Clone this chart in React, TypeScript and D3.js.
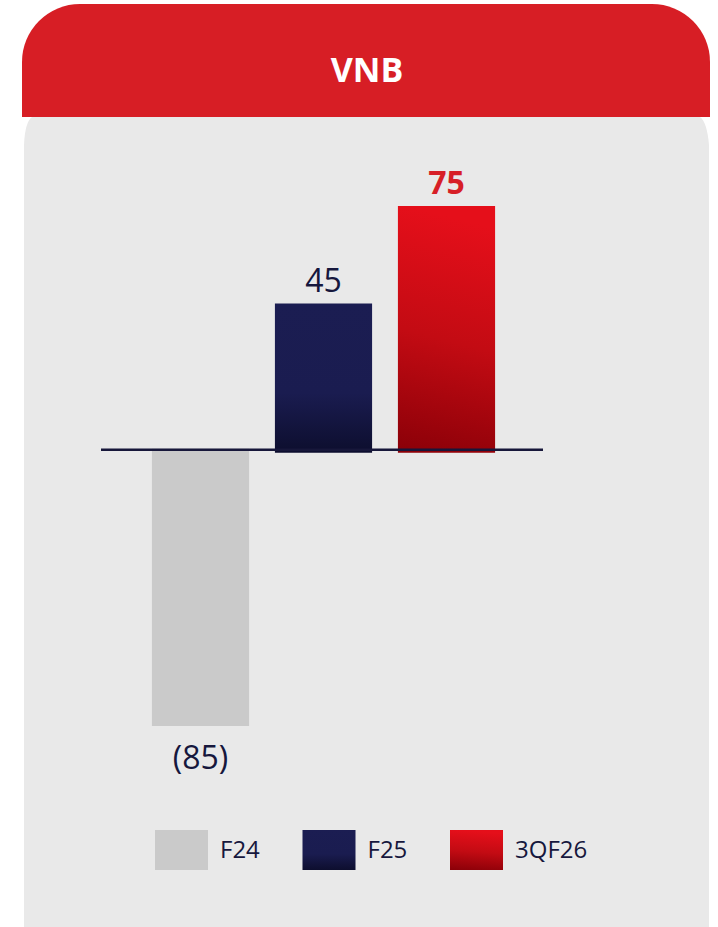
import React from "react";
import * as d3 from "d3";

const title = "VNB";
const categories = ["F24", "F25", "3QF26"];
const values = [-85, 45, 75];
const valueLabels = ["(85)", "45", "75"];
const legendLabels = ["F24", "F25", "3QF26"];

const W = 718;
const H = 927;
const FONT = "'Open Sans', 'Noto Sans', sans-serif";
const NAVY = "#16173d";

export default function App() {
  const x = d3
    .scaleBand<string>()
    .domain(categories)
    .range([139, 508])
    .paddingInner(0.21)
    .paddingOuter(0.105);
  const y = d3.scaleLinear().domain([-85, 75]).range([726, 206]);
  const y0 = y(0);

  const fills = ["#cacaca", "url(#gNavy)", "url(#gRed)"];
  const labelColors = [NAVY, NAVY, "#d71f27"];
  const labelWeights = [400, 400, 700];

  const legendX = d3.scalePoint<string>().domain(legendLabels).range([155, 450]);
  const headerPath = d3.path();
  const hx0 = 22, hx1 = 710, hy0 = 4, hy1 = 117, r = 58;
  headerPath.moveTo(hx0, hy1);
  headerPath.lineTo(hx0, hy0 + r);
  headerPath.arcTo(hx0, hy0, hx0 + r, hy0, r);
  headerPath.lineTo(hx1 - r, hy0);
  headerPath.arcTo(hx1, hy0, hx1, hy0 + r, r);
  headerPath.lineTo(hx1, hy1);
  headerPath.closePath();

  const panelPath = `M24,${H} L24,145 Q25,122 32,117 L700,117 Q707,122 709,145 L709,${H} Z`;

  return (
    <svg
      width={W}
      height={H}
      style={{ position: "absolute", left: 0, top: 0, background: "#ffffff" }}
    >
      <defs>
        <linearGradient id="gNavy" x1="0" y1="0" x2="0" y2="1">
          <stop offset="0" stopColor="#1b1d52" />
          <stop offset="0.6" stopColor="#1a1c50" />
          <stop offset="1" stopColor="#0d0e2e" />
        </linearGradient>
        <linearGradient id="gRed" x1="0.1" y1="0" x2="0" y2="1">
          <stop offset="0" stopColor="#e50f1a" />
          <stop offset="0.5" stopColor="#c30b13" />
          <stop offset="1" stopColor="#8a0008" />
        </linearGradient>
      </defs>
      <path d={panelPath} fill="#e9e9e9" />
      <path d={headerPath.toString()} fill="#d71e25" />
      <text
        x={367}
        y={82}
        textAnchor="middle"
        fontFamily={FONT}
        fontWeight={700}
        fontSize={34}
        fill="#ffffff"
      >
        {title}
      </text>

      {categories.map((c, i) => {
        const v = values[i];
        const top = v >= 0 ? y(v) : y0 - 1;
        const bottom = v >= 0 ? y0 + 3 : y(v);
        return (
          <rect
            key={c}
            x={x(c)}
            y={top}
            width={x.bandwidth()}
            height={bottom - top}
            fill={fills[i]}
          />
        );
      })}
      <line x1={101} x2={543} y1={y0} y2={y0} stroke="#17173a" strokeWidth={2.5} />

      {categories.map((c, i) => {
        const v = values[i];
        const cx = (x(c) as number) + x.bandwidth() / 2;
        const ty = v >= 0 ? y(v) - 12 : y(v) + 43;
        return (
          <text
            key={c}
            x={cx}
            y={ty}
            textAnchor="middle"
            fontFamily={FONT}
            fontSize={32}
            fontWeight={labelWeights[i]}
            fill={labelColors[i]}
          >
            {valueLabels[i]}
          </text>
        );
      })}

      {legendLabels.map((l, i) => {
        const lx = legendX(l) as number;
        return (
          <g key={l}>
            <rect x={lx} y={830} width={53} height={40} fill={fills[i]} />
            <text
              x={lx + 65}
              y={858}
              fontFamily={FONT}
              fontSize={24}
              fill={NAVY}
            >
              {l}
            </text>
          </g>
        );
      })}
    </svg>
  );
}
